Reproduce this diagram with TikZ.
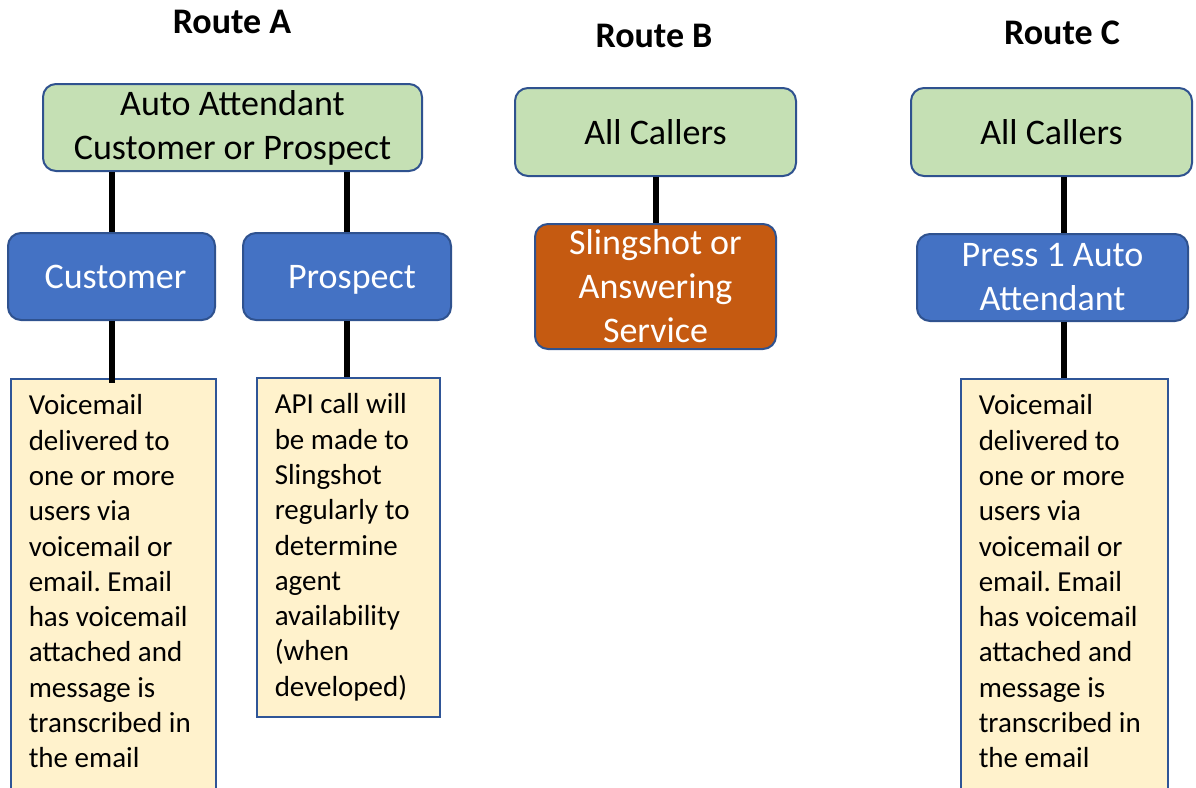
\documentclass[tikz,border=0pt]{standalone}
\usepackage{fontspec}
\setmainfont{Carlito}
\frenchspacing

\definecolor{boxline}{HTML}{2F528F}
\definecolor{noteline}{HTML}{2F5597}
\definecolor{callgreen}{HTML}{C5E0B4}
\definecolor{callblue}{HTML}{4472C4}
\definecolor{callorange}{HTML}{C55A11}
\definecolor{noteyellow}{HTML}{FFF2CC}

\begin{document}
\begin{tikzpicture}[x=1pt,y=-1pt]

\tikzstyle{route}=[font=\fontsize{36}{44}\selectfont\bfseries]
\tikzstyle{greenbox}=[draw=boxline,line width=2pt,fill=callgreen,rounded corners=13pt,
  inner sep=0pt,align=center,font=\fontsize{36}{44}\selectfont]
\tikzstyle{bluebox}=[greenbox,fill=callblue,text=white]
\tikzstyle{orangebox}=[greenbox,fill=callorange,text=white]
\tikzstyle{notebox}=[draw=noteline,line width=1.5pt,fill=noteyellow,anchor=north west,
  inner xsep=18pt,inner ysep=16pt,font=\fontsize{29}{35.3}\selectfont]
\tikzstyle{link}=[line width=6pt,black]

\newcommand{\notetext}[3]{\parbox[t][#1][t]{#2}{\raggedright #3}}

\useasboundingbox (0,0) rectangle (1196,787);
\clip (0,0) rectangle (1196,787);

%% Route titles
\node[route] (titleA) at (232,22) {Route A};
\node[route] (titleB) at (654,36) {Route B};
\node[route] (titleC) at (1062,33) {Route C};

%% Route A
\node[greenbox,minimum width=379pt,minimum height=87pt] (gA) at (232.5,127.5)
  {Auto Attendant\\Customer or Prospect};
\node[bluebox,minimum width=207pt,minimum height=87pt,text depth=0pt] (cust) at (111.5,276.5)
  {\hspace*{8pt}Customer};
\node[bluebox,minimum width=208pt,minimum height=87pt,text depth=0pt] (prosp) at (347,276.5)
  {\hspace*{10pt}Prospect};
\node[notebox] (vmA) at (10,378) {\notetext{390pt}{169pt}{Voicemail\\ delivered to\\ one or more\\
  users via\\ voicemail or\\ email. Email\\ has voicemail\\ attached and\\ message is\\
  transcribed in\\ the email}};
\node[notebox] (apiA) at (256,377) {\notetext{307pt}{147pt}{API call will\\ be made to\\ Slingshot\\
  regularly to\\ determine\\ agent\\ availability\\ (when\\ developed)}};

%% Route B
\node[greenbox,minimum width=281pt,minimum height=88pt] (gB) at (655.5,132) {All Callers};
\node[orangebox,minimum width=241pt,minimum height=125pt] (sling) at (655.5,286.5)
  {Slingshot or\\Answering\\Service};

%% Route C
\node[greenbox,minimum width=281pt,minimum height=88pt] (gC) at (1051.5,132) {All Callers};
\node[bluebox,minimum width=271pt,minimum height=87pt] (press) at (1052.5,277.5)
  {Press 1 Auto\\Attendant};
\node[notebox] (vmC) at (960,378) {\notetext{390pt}{171pt}{Voicemail\\ delivered to\\ one or more\\
  users via\\ voicemail or\\ email. Email\\ has voicemail\\ attached and\\ message is\\
  transcribed in\\ the email}};

%% Links
\draw[link] (cust.north |- gA.south) -- (cust.north);
\draw[link] (prosp.north |- gA.south) -- (prosp.north);
\draw[link,shorten >=-5pt] (cust.south) -- (cust.south |- vmA.north);
\draw[link] (prosp.south) -- (prosp.south |- apiA.north);
\draw[link] (gB.south) -- (sling.north);
\draw[link] (vmC.north |- gC.south) -- (vmC.north |- press.north);
\draw[link] (vmC.north |- press.south) -- (vmC.north);

\end{tikzpicture}
\end{document}
